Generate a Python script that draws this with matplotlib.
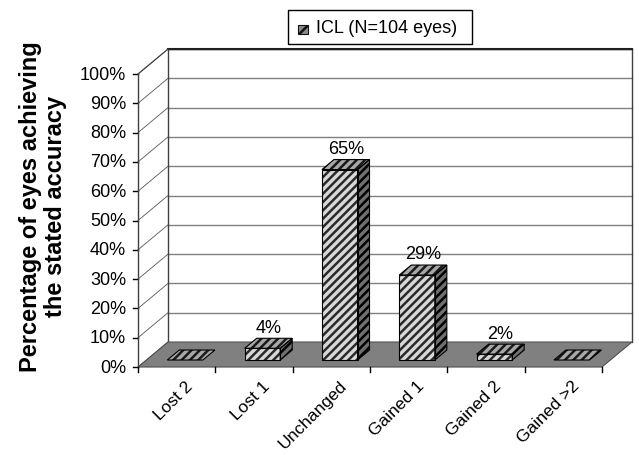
import matplotlib
matplotlib.use("Agg")
import matplotlib.pyplot as plt
from matplotlib.patches import Polygon, Rectangle

plt.rcParams['font.family'] = ['Liberation Sans', 'DejaVu Sans']
plt.rcParams['hatch.linewidth'] = 1.8

categories = ["Lost 2", "Lost 1", "Unchanged", "Gained 1", "Gained 2", "Gained >2"]
values = [0, 4, 65, 29, 2, 0]
value_labels = ["", "4%", "65%", "29%", "2%", ""]
y_ticks = [0, 10, 20, 30, 40, 50, 60, 70, 80, 90, 100]
legend_label = "ICL (N=104 eyes)"
y_label = "Percentage of eyes achieving\nthe stated accuracy"

# oblique depth offset (in data units) for the fake 3D look
DX = 0.388
DY = 8.53
BAR_W = 0.46
Z_FRONT = 0.28
Z_BACK = 0.68


def proj(x, y, z):
    return (x + z * DX, y + z * DY)


fig = plt.figure(figsize=(6.39, 4.56), dpi=100)
ax = fig.add_axes([0, 0, 1, 1])
ax.set_xlim(-1.785, 6.479)
ax.set_ylim(-30.03, 125.6)
ax.axis('off')

n = len(categories)
grid_c = '#808080'

# back wall + side wall gridlines
for t in y_ticks:
    x0, y0 = proj(0, t, 0)
    x1, y1 = proj(0, t, 1)
    x2, y2 = proj(n, t, 1)
    ax.plot([x0, x1], [y0, y1], color='#555555', lw=0.6, zorder=1)
    if t > 0:
        ax.plot([x1, x2], [y1, y2], color=grid_c, lw=1.0, zorder=1)
    ax.plot([x0 - 0.07, x0], [y0, y0], color='black', lw=1.0, zorder=1)
    ax.text(x0 - 0.155, y0, f"{t}%", ha='right', va='center', fontsize=13)

# wall borders
bl = proj(0, 0, 1)
tl = proj(0, 100, 1)
tr = proj(n, 100, 1)
br = proj(n, 0, 1)
ax.plot([bl[0], tl[0], tr[0], br[0]], [bl[1], tl[1], tr[1], br[1]], color='#404040', lw=1.0, zorder=1)
ax.plot([tl[0], tr[0]], [tl[1], tr[1]], color='#202020', lw=1.5, zorder=1)
ax.plot([0, 0], [0, 100], color='#404040', lw=1.0, zorder=1)
f0 = proj(0, 100, 0)
ax.plot([f0[0], tl[0]], [f0[1], tl[1]], color='#404040', lw=0.8, zorder=1)

# floor
floor = [proj(0, 0, 0), proj(n, 0, 0), proj(n, 0, 1), proj(0, 0, 1)]
ax.add_patch(Polygon(floor, closed=True, facecolor='#808080', edgecolor='#505050', lw=0.8, zorder=2))

# x ticks and category labels
for i in range(n + 1):
    ax.plot([i, i], [0, -1.8], color='black', lw=1.0, zorder=2)
for i, c in enumerate(categories):
    ax.text(i + 0.74, -3.6, c, rotation=45, ha='right', va='top', fontsize=12.5)


def face(pts, fc, hc, z):
    ax.add_patch(Polygon(pts, closed=True, facecolor=fc, edgecolor=hc, hatch='////', lw=0, zorder=z))
    ax.add_patch(Polygon(pts, closed=True, fill=False, edgecolor='black', lw=0.8, zorder=z + 0.1))


# bars
for i, v in enumerate(values):
    xl = i + 0.5 - BAR_W / 2
    xr = i + 0.5 + BAR_W / 2
    front = [proj(xl, 0, Z_FRONT), proj(xr, 0, Z_FRONT), proj(xr, v, Z_FRONT), proj(xl, v, Z_FRONT)]
    top = [proj(xl, v, Z_FRONT), proj(xr, v, Z_FRONT), proj(xr, v, Z_BACK), proj(xl, v, Z_BACK)]
    side = [proj(xr, 0, Z_FRONT), proj(xr, 0, Z_BACK), proj(xr, v, Z_BACK), proj(xr, v, Z_FRONT)]
    if v > 0:
        face(front, '#d8d8d8', '#2a2a2a', 3)
        face(side, '#707070', '#000000', 3)
    face(top, '#a8a8a8', '#1a1a1a', 3)
    if value_labels[i]:
        lx, ly = proj(i + 0.5, v, 0.48)
        ax.text(lx, ly + 2.6, value_labels[i], ha='center', va='bottom', fontsize=13, zorder=5)

# y label
ax.text(-1.23, 55, y_label, rotation=90, ha='center', va='center', fontsize=17,
        fontweight='bold', linespacing=1.08)

# legend box
ax.add_patch(Rectangle((1.937, 110.2), 2.38, 11.6, facecolor='white', edgecolor='black', lw=1.0, zorder=6))
ax.add_patch(Rectangle((2.07, 113.6), 0.13, 3.1, facecolor='#8a8a8a', edgecolor='#111111',
                       hatch='///', lw=0.8, zorder=7))
ax.text(2.30, 116.0, legend_label, ha='left', va='center', fontsize=13, zorder=7)

fig.savefig("out.png", dpi=100)
